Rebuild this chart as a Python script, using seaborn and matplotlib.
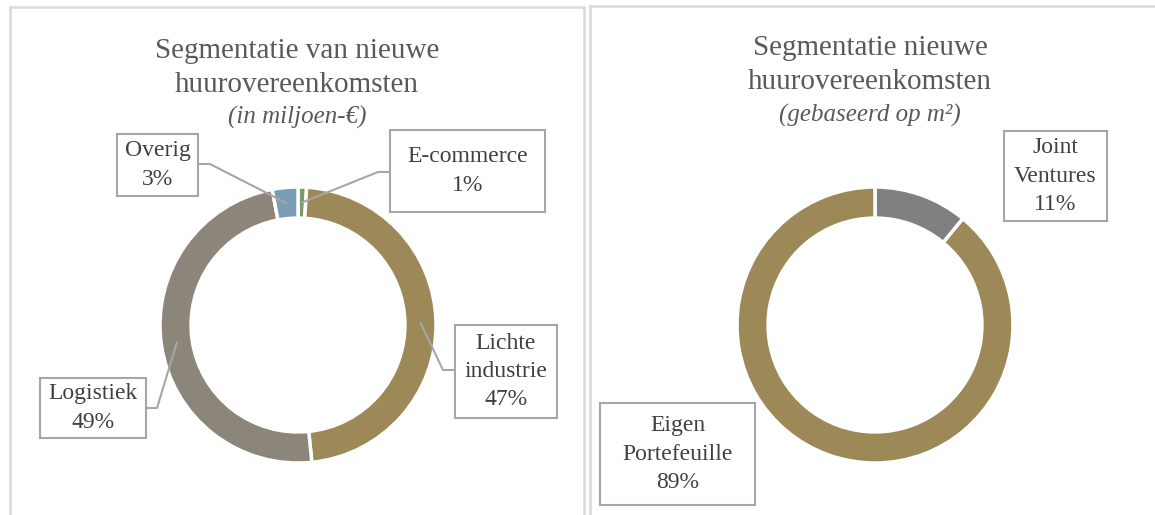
import matplotlib
matplotlib.use("Agg")
import matplotlib.pyplot as plt
import matplotlib.patches as mpatches
import seaborn as sns
import numpy as np

# === Data (clockwise from 12 o'clock) ===
left_labels = ["E-commerce", "Lichte\nindustrie", "Logistiek", "Overig"]
left_values = [1.0, 47.4, 48.6, 3.0]
left_colors = ["#7D9B69", "#9D8857", "#8C857A", "#7A9CB5"]

right_labels = ["Joint\nVentures", "Eigen\nPortefeuille"]
right_values = [11.0, 89.0]
right_colors = ["#808080", "#9D8857"]

left_title = "Segmentatie van nieuwe\nhuurovereenkomsten"
left_sub = "(in miljoen-€)"
right_title = "Segmentatie nieuwe\nhuurovereenkomsten"
right_sub = "(gebaseerd op m²)"

# === Layout (pixels, top-left origin) ===
W, H = 1155, 515
R = 138.0          # outer radius in px
RING = 0.225       # ring width as fraction of radius
TEXT = "#404040"
TITLE = "#595959"
EDGE = "#A6A6A6"
FRAME = "#D9D9D9"

sns.set_theme(style="white")
plt.rcParams["font.family"] = ["Liberation Serif", "DejaVu Serif"]

fig = plt.figure(figsize=(W / 100, H / 100), dpi=100)


def make_panel(x0, x1, cx, cy):
    ax = fig.add_axes([x0 / W, 0, (x1 - x0) / W, 1])
    ax.set_axis_off()
    return ax, (lambda px, py: ((px - cx) / R, (cy - py) / R)), ((x0 - cx) / R, (x1 - cx) / R), ((cy - H) / R, cy / R)


def draw_donut(ax, values, colors, xlim, ylim):
    ax.pie(values, colors=colors, startangle=90, counterclock=False, radius=1,
           wedgeprops=dict(width=RING, edgecolor="white", linewidth=2.5))
    ax.set_xlim(*xlim)
    ax.set_ylim(*ylim)
    ax.set_aspect("auto")
    # mid angle of each wedge, for leader lines
    total = sum(values)
    cum = np.cumsum([0] + list(values[:-1]))
    mids = 90 - 360 * (cum + np.array(values) / 2) / total
    return mids


def label_box(ax, d, box, text):
    (x0, y0), (x1, y1) = d(box[0], box[1]), d(box[2], box[3])
    ax.add_patch(mpatches.Rectangle((x0, y1), x1 - x0, y0 - y1, fc="white",
                                    ec=EDGE, lw=1.5, zorder=5))
    ax.text((x0 + x1) / 2, (y0 + y1) / 2, text, ha="center", va="center",
            fontsize=17, color=TEXT, linespacing=1.45, zorder=6)


def leader(ax, d, mid_deg, elbow, edge):
    r = 1 - RING / 2
    wx, wy = r * np.cos(np.radians(mid_deg)), r * np.sin(np.radians(mid_deg))
    ex, ey = d(*elbow)
    bx, by = d(*edge)
    ax.plot([wx, ex, bx], [wy, ey, by], color=EDGE, lw=1.5, zorder=4)


# === Left panel ===
axl, dl, xl, yl = make_panel(0, 587, 298, 325)
mids_l = draw_donut(axl, left_values, left_colors, xl, yl)
pct_l = [f"{v / sum(left_values) * 100:.0f}%" for v in left_values]

boxes_l = [(390, 130, 545, 212), (455, 325, 557, 418), (40, 378, 146, 438), (117, 134, 198, 196)]
elbows_l = [((378, 172), (390, 172)), ((443, 370), (455, 370)),
            ((157, 408), (146, 408)), ((210, 164), (198, 164))]
for i in range(len(left_values)):
    leader(axl, dl, mids_l[i], *elbows_l[i])
    label_box(axl, dl, boxes_l[i], f"{left_labels[i]}\n{pct_l[i]}")

tx, ty = dl(297, 68)
axl.text(tx, ty, left_title, ha="center", va="center", fontsize=21, color=TITLE, linespacing=1.42)
tx, ty = dl(297, 117)
axl.text(tx, ty, left_sub, ha="center", va="center", fontsize=18, color=TITLE, style="italic")

# === Right panel ===
axr, dr, xr, yr = make_panel(587, 1155, 875, 325)
mids_r = draw_donut(axr, right_values, right_colors, xr, yr)
pct_r = [f"{v / sum(right_values) * 100:.0f}%" for v in right_values]

boxes_r = [(1004, 131, 1107, 221), (600, 403, 755, 505)]
for i in range(len(right_values)):
    label_box(axr, dr, boxes_r[i], f"{right_labels[i]}\n{pct_r[i]}")

tx, ty = dr(870, 65)
axr.text(tx, ty, right_title, ha="center", va="center", fontsize=21, color=TITLE, linespacing=1.42)
tx, ty = dr(870, 115)
axr.text(tx, ty, right_sub, ha="center", va="center", fontsize=18, color=TITLE, style="italic")

# === Panel frames ===
for (x0, y0, x1) in [(10, 7, 584), (590, 6, 1165)]:
    fig.add_artist(mpatches.Rectangle((x0 / W, -0.05), (x1 - x0) / W, 1.05 - y0 / H,
                                      transform=fig.transFigure, fill=False,
                                      ec=FRAME, lw=1.8, zorder=0))

fig.savefig("out.png", dpi=100)
